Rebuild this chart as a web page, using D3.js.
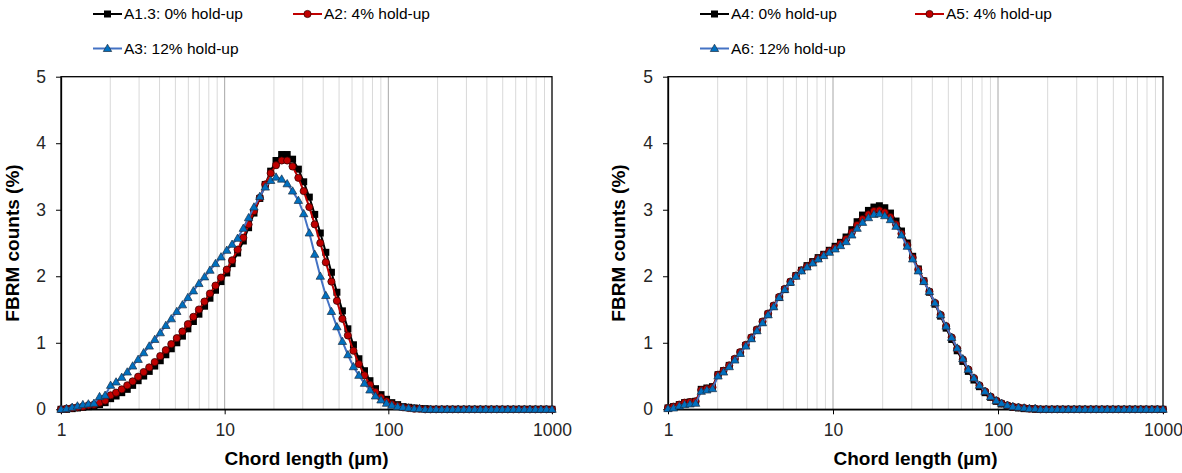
<!DOCTYPE html>
<html>
<head>
<meta charset="utf-8">
<script src="https://cdn.jsdelivr.net/npm/d3@7"></script>
<style>
  body { margin: 0; background: #fff; }
  text { font-family: Arial, "Liberation Sans", sans-serif; }
</style>
</head>
<body>
<svg width="1182" height="473"></svg>
<script>
// chord length bins (um), 90 log-spaced channels
var chordLength = [
  1.00, 1.08, 1.17, 1.26, 1.36, 1.47, 1.59, 1.72, 1.86, 2.01,
  2.17, 2.35, 2.54, 2.74, 2.96, 3.20, 3.46, 3.74, 4.04, 4.37,
  4.72, 5.10, 5.52, 5.96, 6.44, 6.96, 7.53, 8.13, 8.79, 9.50,
  10.3, 11.1, 12.0, 13.0, 14.0, 15.1, 16.4, 17.7, 19.1, 20.6,
  22.3, 24.1, 26.0, 28.2, 30.4, 32.9, 35.5, 38.4, 41.5, 44.9,
  48.5, 52.4, 56.6, 61.2, 66.1, 71.5, 77.2, 83.5, 90.2, 97.5,
  105, 114, 123, 133, 144, 155, 168, 181, 196, 212,
  229, 247, 267, 289, 312, 337, 365, 394, 426, 460,
  497, 537, 581, 628, 678, 733, 792, 856, 925, 1000
];

// left panel
var a13 = [
  0.00, 0.00, 0.01, 0.02, 0.03, 0.04, 0.05, 0.07, 0.10, 0.16,
  0.20, 0.25, 0.30, 0.36, 0.43, 0.50, 0.57, 0.65, 0.73, 0.82,
  0.91, 1.00, 1.10, 1.21, 1.32, 1.43, 1.55, 1.67, 1.79, 1.92,
  2.05, 2.19, 2.35, 2.53, 2.73, 2.95, 3.17, 3.38, 3.58, 3.74,
  3.83, 3.83, 3.76, 3.61, 3.42, 3.19, 2.93, 2.65, 2.36, 2.06,
  1.76, 1.48, 1.21, 0.97, 0.76, 0.58, 0.43, 0.31, 0.22, 0.15,
  0.10, 0.07, 0.04, 0.03, 0.02, 0.01, 0.01, 0.00, 0.00, 0.00,
  0, 0, 0, 0, 0, 0, 0, 0, 0, 0,
  0, 0, 0, 0, 0, 0, 0, 0, 0, 0
];
var a2 = [
  0.00, 0.01, 0.02, 0.03, 0.04, 0.06, 0.07, 0.10, 0.13, 0.21,
  0.25, 0.30, 0.36, 0.42, 0.49, 0.56, 0.63, 0.71, 0.80, 0.89,
  0.98, 1.07, 1.17, 1.28, 1.39, 1.50, 1.62, 1.74, 1.86, 1.98,
  2.10, 2.24, 2.40, 2.58, 2.78, 2.98, 3.18, 3.38, 3.55, 3.67,
  3.74, 3.74, 3.65, 3.48, 3.28, 3.04, 2.78, 2.50, 2.21, 1.92,
  1.63, 1.36, 1.11, 0.88, 0.68, 0.51, 0.37, 0.26, 0.18, 0.12,
  0.08, 0.05, 0.03, 0.02, 0.01, 0.01, 0.00, 0.00, 0.00, 0.00,
  0, 0, 0, 0, 0, 0, 0, 0, 0, 0,
  0, 0, 0, 0, 0, 0, 0, 0, 0, 0
];
var a3 = [
  0.00, 0.01, 0.03, 0.05, 0.07, 0.08, 0.09, 0.19, 0.21, 0.36,
  0.41, 0.48, 0.56, 0.65, 0.75, 0.85, 0.95, 1.05, 1.15, 1.26,
  1.36, 1.47, 1.57, 1.68, 1.78, 1.89, 1.99, 2.09, 2.19, 2.29,
  2.39, 2.48, 2.57, 2.72, 2.88, 3.04, 3.20, 3.34, 3.44, 3.49,
  3.46, 3.39, 3.28, 3.14, 2.94, 2.65, 2.33, 2.00, 1.71, 1.47,
  1.24, 1.02, 0.82, 0.64, 0.51, 0.39, 0.29, 0.20, 0.14, 0.09,
  0.06, 0.04, 0.03, 0.02, 0.01, 0.01, 0.00, 0.00, 0.00, 0.00,
  0, 0, 0, 0, 0, 0, 0, 0, 0, 0,
  0, 0, 0, 0, 0, 0, 0, 0, 0, 0
];

// right panel
var a4 = [
  0.02, 0.04, 0.07, 0.10, 0.11, 0.12, 0.30, 0.32, 0.34, 0.52,
  0.58, 0.66, 0.75, 0.85, 0.96, 1.07, 1.19, 1.31, 1.43, 1.55,
  1.68, 1.80, 1.91, 2.01, 2.09, 2.16, 2.22, 2.28, 2.33, 2.39,
  2.45, 2.51, 2.59, 2.70, 2.82, 2.92, 2.99, 3.04, 3.06, 3.03,
  2.95, 2.83, 2.68, 2.50, 2.30, 2.11, 1.93, 1.76, 1.58, 1.40,
  1.22, 1.05, 0.88, 0.72, 0.57, 0.44, 0.34, 0.25, 0.18, 0.12,
  0.08, 0.05, 0.03, 0.02, 0.01, 0.01, 0.00, 0.00, 0.00, 0.00,
  0, 0, 0, 0, 0, 0, 0, 0, 0, 0,
  0, 0, 0, 0, 0, 0, 0, 0, 0, 0
];
var a5 = [
  0.02, 0.04, 0.07, 0.10, 0.11, 0.12, 0.29, 0.31, 0.33, 0.52,
  0.58, 0.66, 0.76, 0.86, 0.97, 1.08, 1.20, 1.32, 1.44, 1.56,
  1.69, 1.81, 1.92, 2.01, 2.09, 2.15, 2.21, 2.27, 2.32, 2.38,
  2.43, 2.49, 2.56, 2.66, 2.77, 2.86, 2.93, 2.98, 2.99, 2.96,
  2.89, 2.78, 2.64, 2.47, 2.28, 2.10, 1.93, 1.77, 1.60, 1.42,
  1.25, 1.08, 0.91, 0.75, 0.60, 0.47, 0.36, 0.27, 0.19, 0.13,
  0.09, 0.06, 0.04, 0.03, 0.02, 0.01, 0.01, 0.00, 0.00, 0.00,
  0, 0, 0, 0, 0, 0, 0, 0, 0, 0,
  0, 0, 0, 0, 0, 0, 0, 0, 0, 0
];
var a6 = [
  0.01, 0.02, 0.05, 0.07, 0.08, 0.09, 0.27, 0.29, 0.31, 0.50,
  0.56, 0.64, 0.74, 0.84, 0.95, 1.06, 1.18, 1.30, 1.42, 1.54,
  1.68, 1.80, 1.91, 2.00, 2.08, 2.14, 2.20, 2.26, 2.31, 2.36,
  2.41, 2.46, 2.52, 2.62, 2.72, 2.81, 2.88, 2.93, 2.94, 2.91,
  2.85, 2.75, 2.62, 2.45, 2.26, 2.08, 1.92, 1.77, 1.60, 1.42,
  1.25, 1.08, 0.92, 0.76, 0.60, 0.47, 0.36, 0.27, 0.19, 0.13,
  0.09, 0.06, 0.04, 0.03, 0.02, 0.01, 0.01, 0.00, 0.00, 0.00,
  0, 0, 0, 0, 0, 0, 0, 0, 0, 0,
  0, 0, 0, 0, 0, 0, 0, 0, 0, 0
];

var leftLabels = ["A1.3: 0% hold-up", "A2: 4% hold-up", "A3: 12% hold-up"];
var rightLabels = ["A4: 0% hold-up", "A5: 4% hold-up", "A6: 12% hold-up"];
var xTicks = [1, 10, 100, 1000];
var yTicks = [0, 1, 2, 3, 4, 5];
var majorGrid = [10, 100];
var minorGrid = [2, 3, 4, 5, 6, 7, 8, 9, 20, 30, 40, 50, 60, 70, 80, 90,
                 200, 300, 400, 500, 600, 700, 800, 900];

var looks = [
  { line: "#000000", fill: "#000000", stroke: "none", shape: "square" },
  { line: "#c00000", fill: "#c00000", stroke: "#3a0000", shape: "circle" },
  { line: "#4472c4", fill: "#0070c0", stroke: "#1d2f45", shape: "triangle" }
];

var svg = d3.select("svg");
var plotTop = 76.7, plotBottom = 409.3;

function addMarker(sel, look) {
  if (look.shape == "square") {
    sel.append("rect").attr("x", -3.5).attr("y", -3.5).attr("width", 7).attr("height", 7)
      .attr("fill", look.fill);
  } else if (look.shape == "circle") {
    sel.append("circle").attr("r", 3.6)
      .attr("fill", look.fill).attr("stroke", look.stroke).attr("stroke-width", 0.8);
  } else {
    sel.append("path").attr("d", "M0,-4.3L4.2,3L-4.2,3Z")
      .attr("fill", look.fill).attr("stroke", look.stroke).attr("stroke-width", 0.7);
  }
}

function drawPanel(x0, x1, series, labels, legendX, titleX) {
  var x = d3.scaleLog().domain([1, 1000]).range([x0, x1]);
  var y = d3.scaleLinear().domain([0, 5]).range([plotBottom, plotTop]);
  var g = svg.append("g");

  // gridlines
  g.selectAll(".minor").data(minorGrid).enter().append("line")
    .attr("x1", x).attr("x2", x).attr("y1", plotTop).attr("y2", plotBottom)
    .attr("stroke", "#d9d9d9").attr("stroke-width", 1);
  g.selectAll(".major").data(majorGrid).enter().append("line")
    .attr("x1", x).attr("x2", x).attr("y1", plotTop).attr("y2", plotBottom)
    .attr("stroke", "#a6a6a6").attr("stroke-width", 1);

  // frame
  g.append("rect").attr("x", x0).attr("y", plotTop).attr("width", x1 - x0).attr("height", plotBottom - plotTop)
    .attr("fill", "none").attr("stroke", "#000").attr("stroke-width", 1.3);

  var xAxis = g.append("g").attr("transform", "translate(0," + plotBottom + ")")
    .call(d3.axisBottom(x).tickValues(xTicks).tickFormat(d3.format("d")).tickSize(5).tickSizeOuter(0).tickPadding(9));
  var yAxis = g.append("g").attr("transform", "translate(" + x0 + ",0)")
    .call(d3.axisLeft(y).tickValues(yTicks).tickFormat(d3.format("d")).tickSize(5).tickSizeOuter(0).tickPadding(10));
  [xAxis, yAxis].forEach(function(a) {
    a.select(".domain").attr("stroke", "#000").attr("stroke-width", 1.3);
    a.selectAll("line").attr("stroke", "#000");
    a.selectAll("text").attr("font-size", 17.5).attr("fill", "#262626")
      .attr("font-family", "Arial, 'Liberation Sans', sans-serif");
  });

  // series
  var line = d3.line()
    .x(function(d, i) { return x(chordLength[i]); })
    .y(function(d) { return y(d); });

  series.forEach(function(values, k) {
    var look = looks[k];
    var s = g.append("g");
    s.append("path").datum(values).attr("d", line)
      .attr("fill", "none").attr("stroke", look.line).attr("stroke-width", 2);
    s.selectAll("g").data(values).enter().append("g")
      .attr("transform", function(d, i) { return "translate(" + x(chordLength[i]) + "," + y(d) + ")"; })
      .each(function() { addMarker(d3.select(this), look); });
  });

  // legend
  var rows = [14, 14, 48.5];
  labels.forEach(function(label, k) {
    var lg = g.append("g").attr("transform", "translate(" + legendX[k] + "," + rows[k] + ")");
    lg.append("line").attr("x1", 0).attr("x2", 29).attr("stroke", looks[k].line).attr("stroke-width", 2);
    addMarker(lg.append("g").attr("transform", "translate(14.5,0)"), looks[k]);
    lg.append("text").attr("x", 31).attr("dy", "0.35em").attr("font-size", 15.5)
      .attr("fill", "#000").text(label);
  });

  // axis titles
  g.append("text").attr("x", (x0 + x1) / 2).attr("y", 465).attr("text-anchor", "middle")
    .attr("font-size", 19).attr("font-weight", "bold").text("Chord length (µm)");
  g.append("text").attr("transform", "translate(" + titleX + "," + ((plotTop + plotBottom) / 2) + ") rotate(-90)")
    .attr("text-anchor", "middle").attr("font-size", 19).attr("font-weight", "bold")
    .text("FBRM counts (%)");
}

drawPanel(61, 552, [a13, a2, a3], leftLabels, [93, 293, 93], 19);
drawPanel(668, 1163, [a4, a5, a6], rightLabels, [700, 915, 700], 625);
</script>
</body>
</html>
